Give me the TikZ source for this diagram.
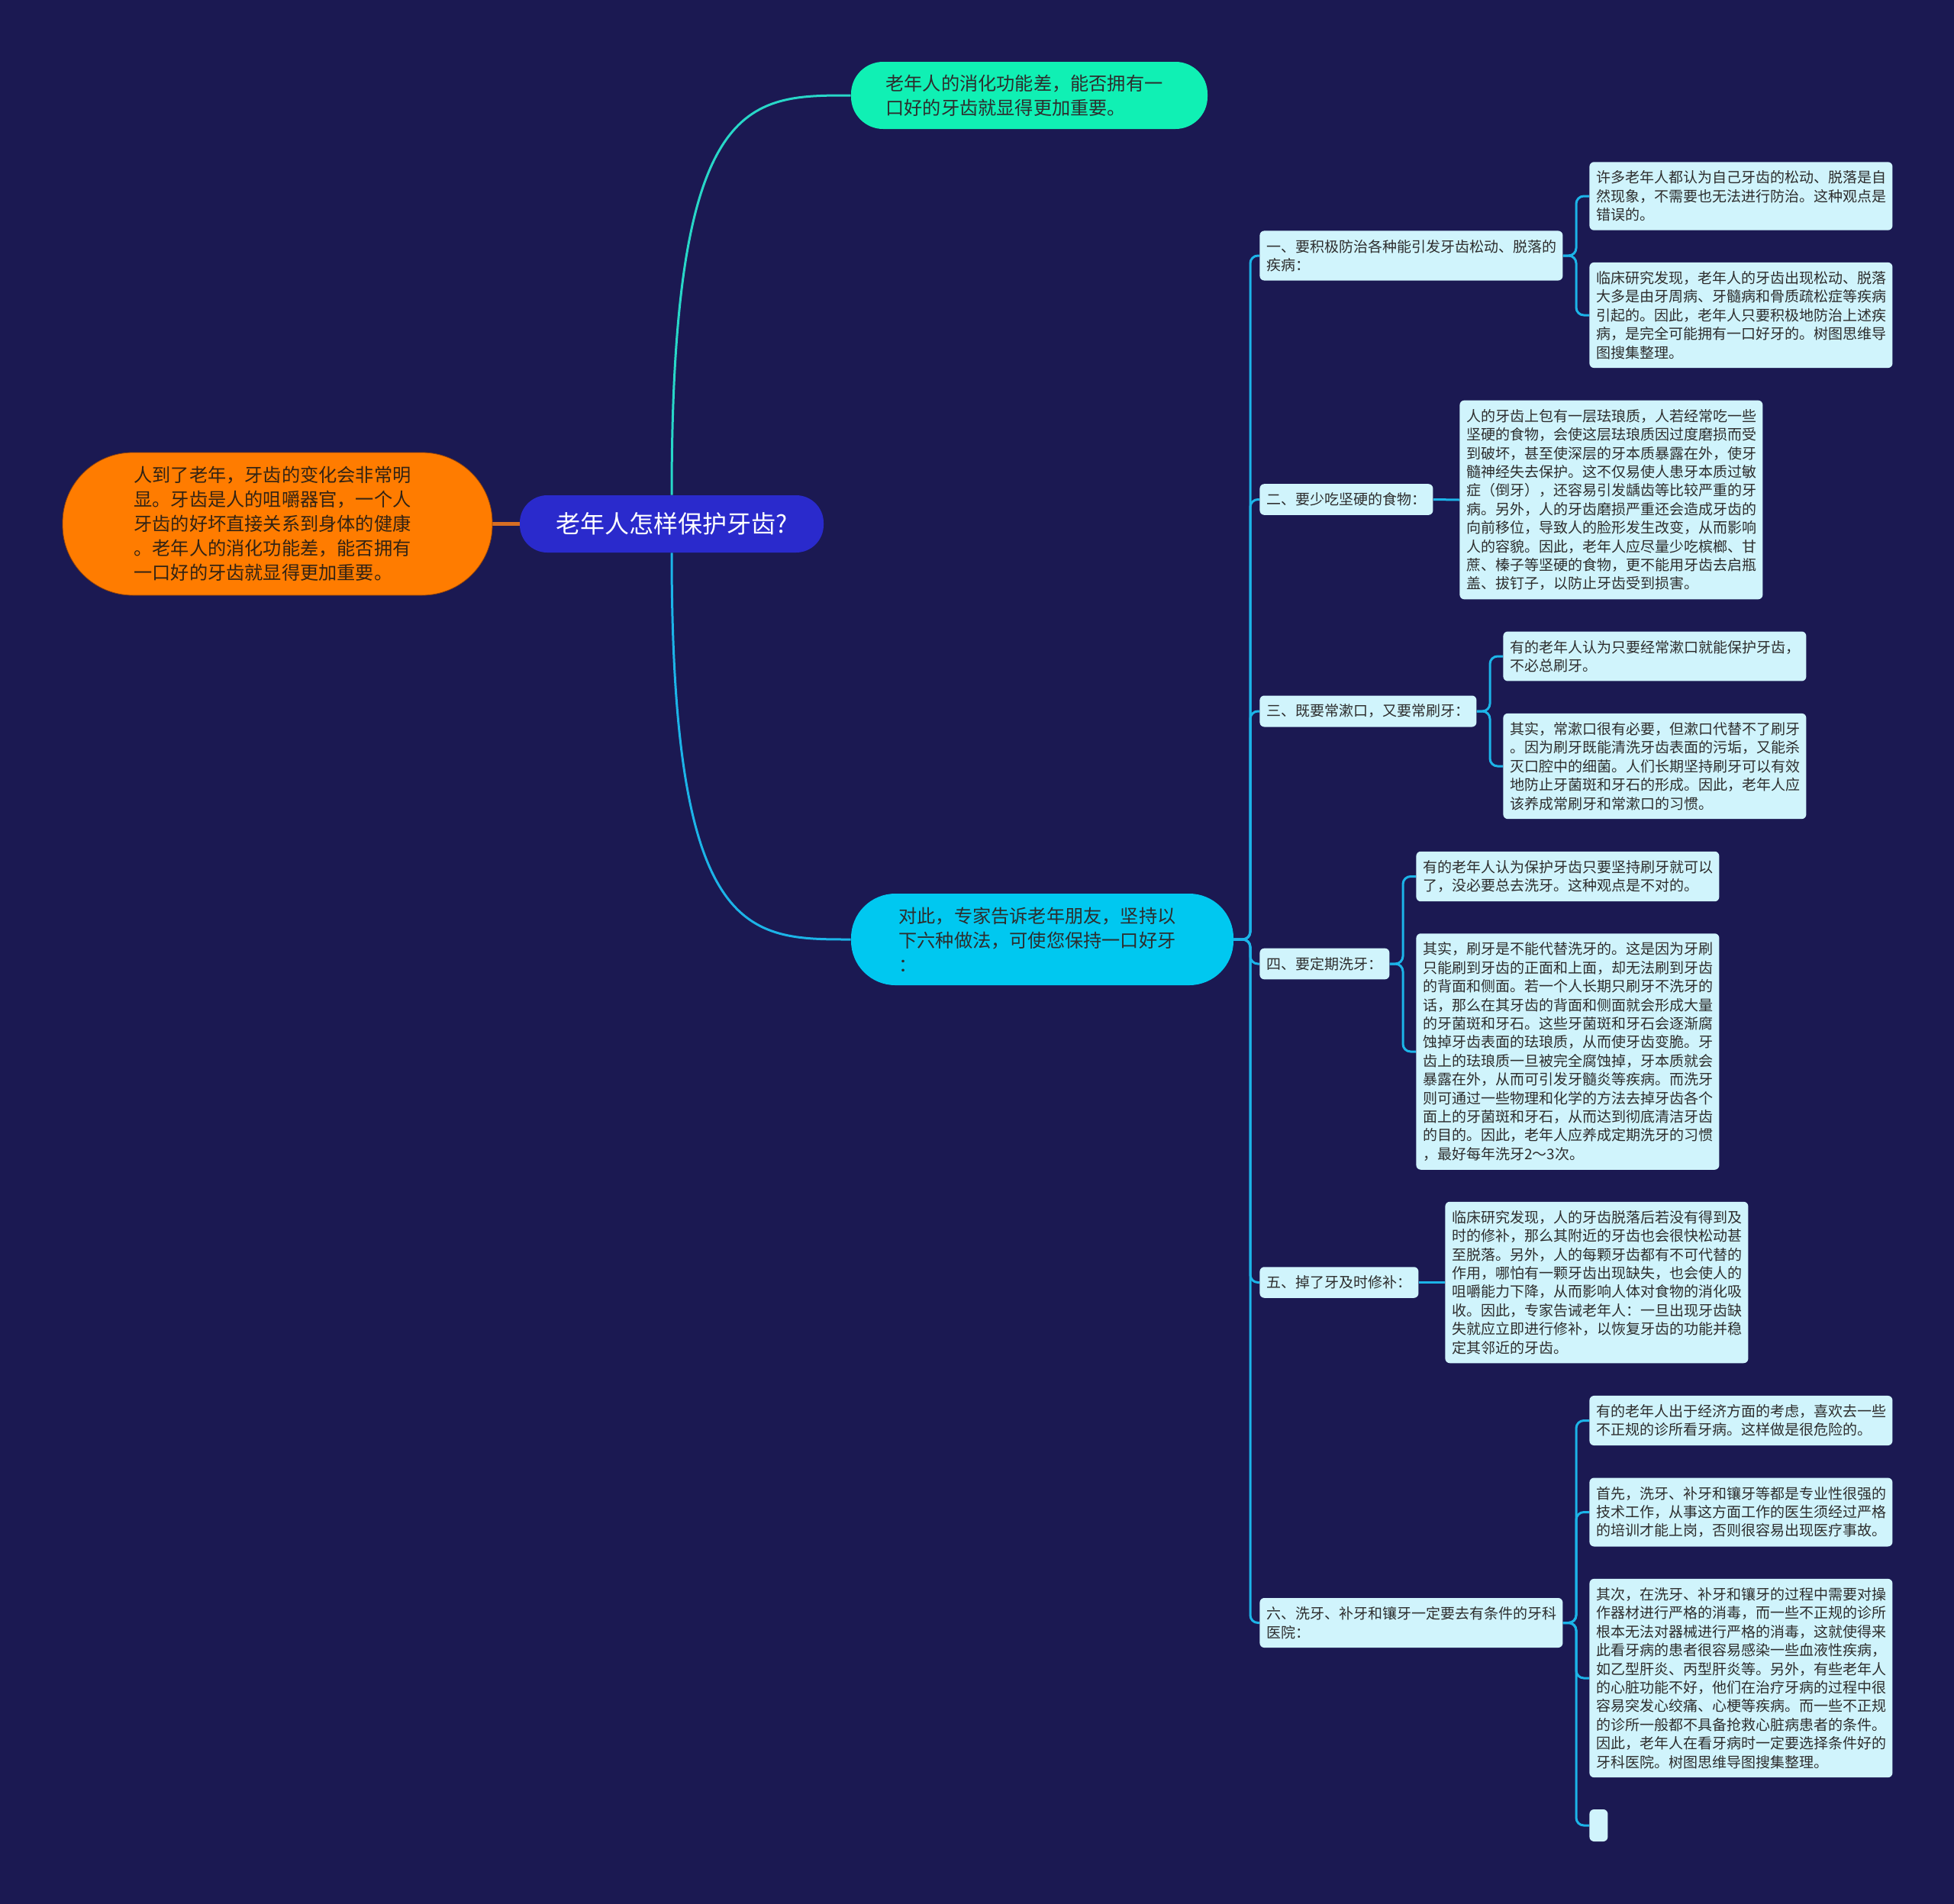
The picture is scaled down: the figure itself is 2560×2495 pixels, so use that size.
\documentclass[tikz,border=0pt]{standalone}
\usepackage{fontspec}
\newfontfamily\cjk{Noto Sans CJK SC}
\usetikzlibrary{calc}
\definecolor{navy}{RGB}{27,25,82}
\definecolor{rootblue}{RGB}{42,42,204}
\definecolor{orangebox}{RGB}{255,124,0}
\definecolor{orangeedge}{RGB}{150,70,10}
\definecolor{mintbox}{RGB}{16,240,180}
\definecolor{cyanbox}{RGB}{0,200,240}
\definecolor{leafbox}{RGB}{208,244,252}
\definecolor{mintline}{RGB}{40,215,200}
\definecolor{cyanline}{RGB}{28,180,232}
\definecolor{orangeline}{RGB}{215,110,35}
\definecolor{textgray}{RGB}{45,45,45}
\pgfdeclarelayer{bglayer}
\pgfdeclarelayer{edgelayer}
\pgfsetlayers{bglayer,edgelayer,main}

\begin{document}
\begin{tikzpicture}[x=0.5pt,y=-0.5pt,
  bigbox/.style={rounded corners=#1, align=left, text width=188pt, inner sep=0pt,
    font=\cjk\fontsize{12.1pt}{16pt}\selectfont, text=textgray},
  sub/.style={fill=leafbox, rounded corners=3pt, anchor=west, align=left,
    inner xsep=4.5pt, inner ysep=5.75pt, text=textgray,
    font=\cjk\fontsize{9.5pt}{12.2pt}\selectfont},
  detail/.style={sub, text width=189.5pt},
  branch/.style={draw=cyanline, line width=1.5pt, rounded corners=5pt}]

  \begin{pgfonlayer}{bglayer}
    \fill[navy] (0,0) rectangle (2560,2495);
  \end{pgfonlayer}

  % centre and first level
  \node[fill=rootblue, rounded corners=18pt, minimum width=199pt, minimum height=37.5pt,
    font=\cjk\fontsize{16pt}{20pt}\selectfont, text=white] (root) at (880,686.5) {老年人怎样保护牙齿?};
  \node[bigbox=46pt, fill=orangebox, draw=orangeedge, minimum width=281.5pt,
    minimum height=93.5pt, text={rgb,255:red,50;green,35;blue,20}] (intro) at (363.5,686.5)
    {人到了老年，牙齿的变化会非常明\\显。牙齿是人的咀嚼器官，一个人\\牙齿的好坏直接关系到身体的健康\\。老年人的消化功能差，能否拥有\\一口好的牙齿就显得更加重要。};
  \node[bigbox=21pt, fill=mintbox, minimum width=233.5pt, minimum height=44pt] (mint) at (1348.5,125)
    {老年人的消化功能差，能否拥有一\\口好的牙齿就显得更加重要。};
  \node[bigbox=29pt, fill=cyanbox, minimum width=250.5pt, minimum height=60pt] (advice) at (1365.5,1231)
    {对此，专家告诉老年朋友，坚持以\\下六种做法，可使您保持一口好牙\\：};

  % six methods
  \node[sub, text width=189.5pt] (c1) at (1650,335) {一、要积极防治各种能引发牙齿松动、脱落的\\疾病：};
  \node[sub] (c2) at (1650,654.5) {二、要少吃坚硬的食物：};
  \node[sub] (c3) at (1650,932) {三、既要常漱口，又要常刷牙：};
  \node[sub] (c4) at (1650,1263) {四、要定期洗牙：};
  \node[sub] (c5) at (1650,1680.5) {五、掉了牙及时修补：};
  \node[sub, text width=189.5pt] (c6) at (1650,2126.5) {六、洗牙、补牙和镶牙一定要去有条件的牙科\\医院：};

  % details
  \node[detail] (g1a) at (2082,257) {许多老年人都认为自己牙齿的松动、脱落是自\\然现象，不需要也无法进行防治。这种观点是\\错误的。};
  \node[detail] (g1b) at (2082,413) {临床研究发现，老年人的牙齿出现松动、脱落\\大多是由牙周病、牙髓病和骨质疏松症等疾病\\引起的。因此，老年人只要积极地防治上述疾\\病，是完全可能拥有一口好牙的。树图思维导\\图搜集整理。};
  \node[detail] (g2) at (1912,655) {人的牙齿上包有一层珐琅质，人若经常吃一些\\坚硬的食物，会使这层珐琅质因过度磨损而受\\到破坏，甚至使深层的牙本质暴露在外，使牙\\髓神经失去保护。这不仅易使人患牙本质过敏\\症（倒牙），还容易引发龋齿等比较严重的牙\\病。另外，人的牙齿磨损严重还会造成牙齿的\\向前移位，导致人的脸形发生改变，从而影响\\人的容貌。因此，老年人应尽量少吃槟榔、甘\\蔗、榛子等坚硬的食物，更不能用牙齿去启瓶\\盖、拔钉子，以防止牙齿受到损害。};
  \node[detail] (g3a) at (1969,860) {有的老年人认为只要经常漱口就能保护牙齿，\\不必总刷牙。};
  \node[detail] (g3b) at (1969,1004) {其实，常漱口很有必要，但漱口代替不了刷牙\\。因为刷牙既能清洗牙齿表面的污垢，又能杀\\灭口腔中的细菌。人们长期坚持刷牙可以有效\\地防止牙菌斑和牙石的形成。因此，老年人应\\该养成常刷牙和常漱口的习惯。};
  \node[detail] (g4a) at (1855,1148.5) {有的老年人认为保护牙齿只要坚持刷牙就可以\\了，没必要总去洗牙。这种观点是不对的。};
  \node[detail] (g4b) at (1855,1378) {其实，刷牙是不能代替洗牙的。这是因为牙刷\\只能刷到牙齿的正面和上面，却无法刷到牙齿\\的背面和侧面。若一个人长期只刷牙不洗牙的\\话，那么在其牙齿的背面和侧面就会形成大量\\的牙菌斑和牙石。这些牙菌斑和牙石会逐渐腐\\蚀掉牙齿表面的珐琅质，从而使牙齿变脆。牙\\齿上的珐琅质一旦被完全腐蚀掉，牙本质就会\\暴露在外，从而可引发牙髓炎等疾病。而洗牙\\则可通过一些物理和化学的方法去掉牙齿各个\\面上的牙菌斑和牙石，从而达到彻底清洁牙齿\\的目的。因此，老年人应养成定期洗牙的习惯\\，最好每年洗牙2～3次。};
  \node[detail] (g5) at (1893,1680.5) {临床研究发现，人的牙齿脱落后若没有得到及\\时的修补，那么其附近的牙齿也会很快松动甚\\至脱落。另外，人的每颗牙齿都有不可代替的\\作用，哪怕有一颗牙齿出现缺失，也会使人的\\咀嚼能力下降，从而影响人体对食物的消化吸\\收。因此，专家告诫老年人：一旦出现牙齿缺\\失就应立即进行修补，以恢复牙齿的功能并稳\\定其邻近的牙齿。};
  \node[detail] (g6a) at (2082,1861.5) {有的老年人出于经济方面的考虑，喜欢去一些\\不正规的诊所看牙病。这样做是很危险的。};
  \node[detail] (g6b) at (2082,1981.5) {首先，洗牙、补牙和镶牙等都是专业性很强的\\技术工作，从事这方面工作的医生须经过严格\\的培训才能上岗，否则很容易出现医疗事故。};
  \node[detail] (g6c) at (2082,2199) {其次，在洗牙、补牙和镶牙的过程中需要对操\\作器材进行严格的消毒，而一些不正规的诊所\\根本无法对器械进行严格的消毒，这就使得来\\此看牙病的患者很容易感染一些血液性疾病，\\如乙型肝炎、丙型肝炎等。另外，有些老年人\\的心脏功能不好，他们在治疗牙病的过程中很\\容易突发心绞痛、心梗等疾病。而一些不正规\\的诊所一般都不具备抢救心脏病患者的条件。\\因此，老年人在看牙病时一定要选择条件好的\\牙科医院。树图思维导图搜集整理。};
  \node[sub, inner sep=0pt, minimum width=12pt, minimum height=21pt] (g6d) at (2082,2392) {};

  % connectors
  \begin{pgfonlayer}{edgelayer}
    \draw[orangeline, line width=2.5pt] (intro.east) -- (root.west);
    \draw[mintline, line width=1.5pt] (root.north) .. controls +(0,-525) and +(-135,0) .. (mint.west);
    \draw[cyanline, line width=1.5pt] (root.south) .. controls +(0,507) and +(-135,0) .. (advice.west);
    \foreach \c in {c1,c2,c3,c4,c5,c6}
      \draw[branch] (advice.east) -| ([xshift=-6pt]\c.west) -- (\c.west);
    \foreach \p/\g in {c1/g1a,c1/g1b,c3/g3a,c3/g3b,c4/g4a,c4/g4b,c6/g6a,c6/g6b,c6/g6c,c6/g6d}
      \draw[branch] (\p.east) -| ([xshift=-8.5pt]\g.west) -- (\g.west);
    \draw[branch] (c2.east) -- (g2.west);
    \draw[branch] (c5.east) -- (g5.west);
  \end{pgfonlayer}
\end{tikzpicture}
\end{document}
